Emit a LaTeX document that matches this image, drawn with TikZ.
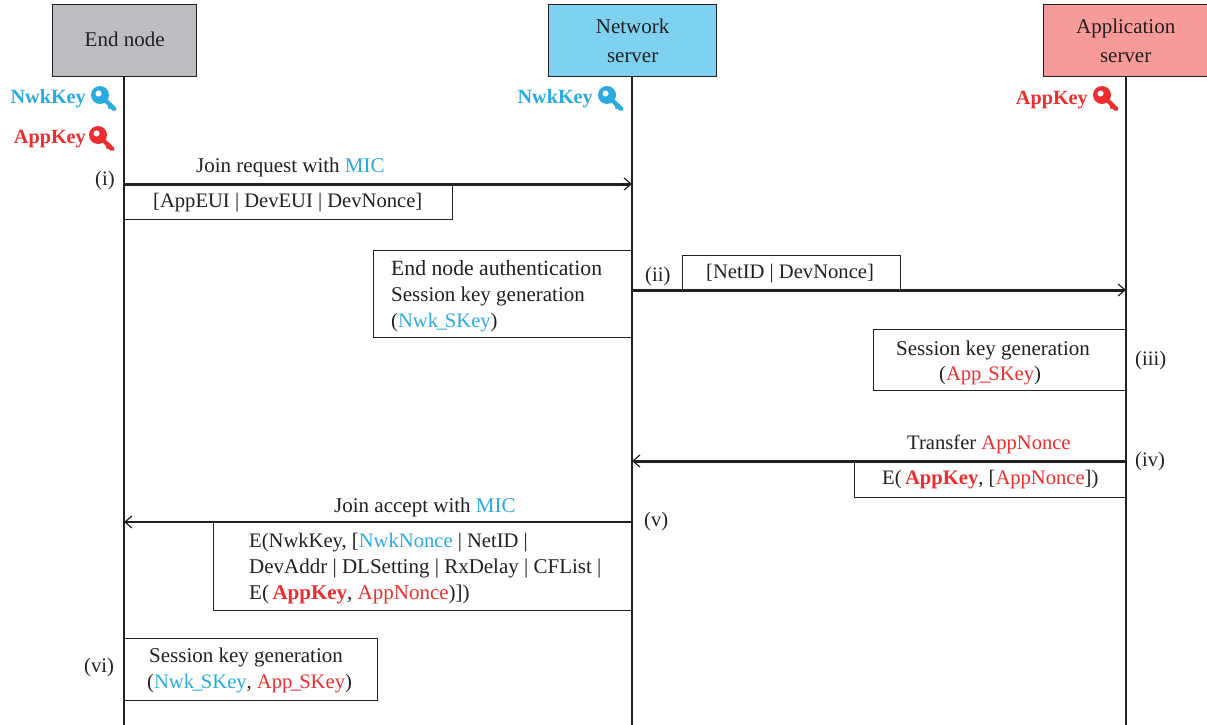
\documentclass[tikz,border=0pt]{standalone}
\usepackage{fontspec}
\setmainfont{Liberation Serif}
\usetikzlibrary{arrows.meta}
\definecolor{kblue}{HTML}{29ABE2}
\definecolor{kred}{HTML}{EE2E2E}
\definecolor{lineblk}{HTML}{231F20}
\definecolor{gnode}{HTML}{BCBDC0}
\definecolor{bnode}{HTML}{7FD1F0}
\definecolor{rnode}{HTML}{F79A9A}
\newcommand{\bl}[1]{\textcolor{kblue}{#1}}
\newcommand{\rd}[1]{\textcolor{kred}{#1}}
\newcommand{\rb}[1]{\textcolor{kred}{\textbf{#1}}}
\newcommand{\usc}{\kern-1.5pt\_\kern-2pt}
\tikzset{
  x=1pt,y=-1pt,
  every node/.style={font=\fontsize{20.6}{26}\selectfont,text=lineblk,inner sep=0pt},
  actor/.style={draw=lineblk,line width=1.3pt,anchor=north west,align=center,font=\fontsize{21}{29.5}\selectfont},
  life/.style={draw=lineblk,line width=2pt},
  msg/.style={draw=lineblk,line width=3pt,-{Straight Barb[length=7pt,width=12pt,line width=1.2pt]}},
  msgthin/.style={draw=lineblk,line width=2.4pt,-{Straight Barb[length=7pt,width=12pt,line width=1.2pt]}},
  framebox/.style={draw=lineblk,line width=1.2pt,anchor=north west},
  lab/.style={anchor=base west},
  widelab/.style={anchor=base west,font=\fontsize{21}{26}\selectfont},
  keyname/.style={font=\fontsize{20.2}{22}\selectfont\bfseries,anchor=base east},
  pics/keyicon/.style={code={
    \fill[#1,even odd rule] (0,0) circle (9) (-1.5,-1.5) circle (3.2);
    \fill[#1] (3,6) -- (6,3) -- (16,12.5) -- (16,15.5) -- (12.5,15.5) -- (10,13.5) -- (8.5,14) -- (8,11) -- cycle;
  }},
}
\begin{document}
\begin{tikzpicture}
\useasboundingbox (0,0) rectangle (1207,725);
% actors
\node[actor,fill=gnode,minimum width=144pt,minimum height=72pt] (endn) at (52,4) {\raisebox{2pt}{End node}};
\node[actor,fill=bnode,minimum width=168pt,minimum height=72pt,text width=168pt] (netn) at (548,4) {\raisebox{-1pt}{Network}\\\raisebox{-1pt}{server}};
\node[actor,fill=rnode,minimum width=164pt,minimum height=72pt,text width=164pt] (appn) at (1043,4) {\raisebox{-1pt}{Application}\\\raisebox{-1pt}{server}};
\coordinate (endb) at (124,725);
\coordinate (netb) at (632,725);
\coordinate (appb) at (1126,725);
% boxes
\node[framebox,minimum width=328pt,minimum height=35pt] (b1) at (124,184) {};
\node[framebox,minimum width=259pt,minimum height=87pt] (b2) at (373,250) {};
\node[framebox,minimum width=218pt,minimum height=35pt] (b3) at (682,255) {};
\node[framebox,minimum width=253pt,minimum height=61pt] (b4) at (873,329) {};
\node[framebox,minimum width=272pt,minimum height=36pt] (b5) at (854,461) {};
\node[framebox,minimum width=419pt,minimum height=88pt] (b6) at (213,522) {};
\node[framebox,minimum width=253pt,minimum height=62pt] (b7) at (124,638) {};
% lifelines
\draw[life] (124,76) -- (endb);
\draw[life] (632,76) -- (netb);
\draw[life] (1126,76) -- (appb);
% messages
\coordinate (m1s) at (124,184); \coordinate (m1e) at (632,184);
\coordinate (m2s) at (632,290); \coordinate (m2e) at (1126,290);
\coordinate (m3s) at (1126,461); \coordinate (m3e) at (632,461);
\coordinate (m4s) at (632,522); \coordinate (m4e) at (124,522);
\draw[msg] (m1s) -- (m1e);
\draw[msg] (m2s) -- (m2e);
\draw[msg] (m3s) -- (m3e);
\draw[msgthin] (m4s) -- (m4e);
% keys
\node[keyname,text=kblue] (k1) at (86,103) {NwkKey};
\pic at (100,95) {keyicon=kblue};
\node[keyname,text=kred] (k2) at (86,143) {AppKey};
\pic at (98,135) {keyicon=kred};
\node[keyname,text=kblue] (k3) at (593,103) {NwkKey};
\pic at (607,95) {keyicon=kblue};
\node[keyname,text=kred] (k4) at (1088,104) {AppKey};
\pic at (1102,95) {keyicon=kred};
% labels
\node[widelab] (l1) at (196,172) {Join request with \bl{MIC}};
\node[lab] (l2) at (153,207) {[AppEUI | DevEUI | DevNonce]};
\node[lab] (l3) at (95,185) {(i)};
\node[lab,font=\fontsize{21.7}{26}\selectfont] (l4) at (391,275) {End node authentication};
\node[widelab] (l5) at (391,301) {Session key generation};
\node[lab] (l6) at (391,327) {(\bl{Nwk\usc SKey})};
\node[lab] (l7) at (645,281) {(ii)};
\node[lab] (l8) at (706,278) {[NetID | DevNonce]};
\node[widelab] (l9) at (896,355) {Session key generation};
\node[lab] (l10) at (939,380) {(\rd{App\usc SKey})};
\node[lab] (l11) at (1135,365) {(iii)};
\node[lab] (l12) at (907,449) {Transfer \rd{AppNonce}};
\node[lab] (l13) at (1135,466) {(iv)};
\node[lab] (l14) at (882,484) {E(\,\rb{AppKey}, [\rd{AppNonce}])};
\node[widelab] (l15) at (334,512) {Join accept with \bl{MIC}};
\node[lab] (l16) at (644,526) {(v)};
\node[lab] (l17) at (249,547) {E(NwkKey, [\bl{NwkNonce} | NetID |};
\node[widelab] (l18) at (249,573) {DevAddr | DLSetting | RxDelay | CFList |};
\node[widelab] (l19) at (249,599) {E(\,\rb{AppKey}, \rd{AppNonce})])};
\node[widelab] (l20) at (149,662) {Session key generation};
\node[lab] (l21) at (147,688) {(\bl{Nwk\usc SKey}, \rd{App\usc SKey})};
\node[lab] (l22) at (84,672) {(vi)};
\end{tikzpicture}
\end{document}
